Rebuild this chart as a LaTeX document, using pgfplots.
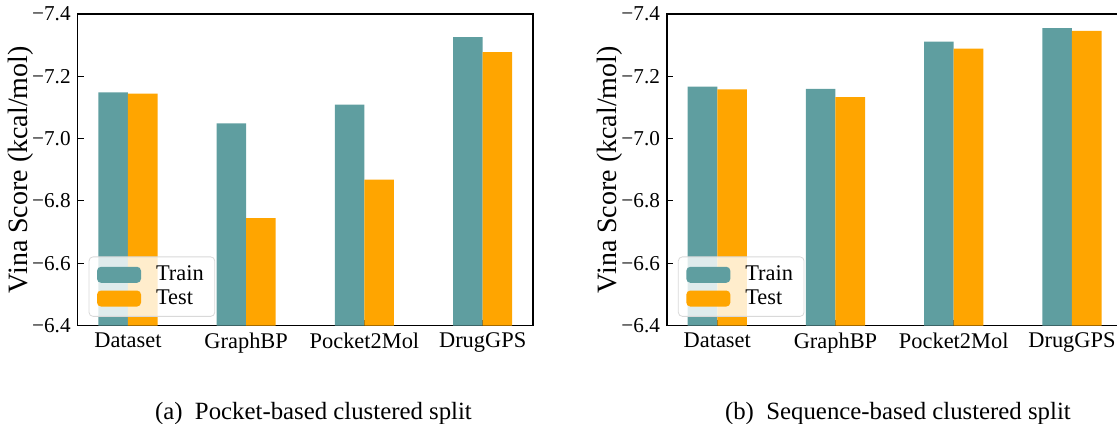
\documentclass[border=0pt]{standalone}
\usepackage{fontspec}
\setmainfont{Liberation Serif}
\usepackage{pgfplots}
\pgfplotsset{compat=1.18}
\definecolor{trainc}{HTML}{5F9EA0}
\definecolor{testc}{HTML}{FFA500}
\pgfplotsset{vina/.style={
  scale only axis, width=227.6pt, height=155.75pt, anchor=south west,
  ybar, bar width=0.25,
  y dir=reverse, ymin=-7.4, ymax=-6.4, xmin=-0.425, xmax=3.425,
  xtick={0,1,2,3}, xticklabels={Dataset,GraphBP,Pocket2Mol,DrugGPS},
  ytick={-7.4,-7.2,-7.0,-6.8,-6.6,-6.4},
  yticklabels={−7.4,−7.2,−7.0,−6.8,−6.6,−6.4},
  tick align=inside, xtick pos=bottom, ytick pos=left, major tick length=3pt,
  tick style={black, line width=0.5pt},
  xticklabel style={font=\fontsize{11.2}{13}\selectfont},
  yticklabel style={font=\fontsize{10.6}{12}\selectfont},
  axis line style={black, line width=0.6pt},
  ylabel={Vina Score (kcal/mol)},
  every axis y label/.style={at={(axis description cs:0,0.5)}, xshift=-28.6pt, rotate=90, anchor=center, font=\fontsize{14}{16}\selectfont},
  legend image code/.code={\fill[##1, fill opacity=1] (0pt,-4pt) rectangle (22pt,4pt);},
  legend style={at={(axis description cs:0.024,0.028)}, anchor=south west,
    draw=black!15, rounded corners=2pt, fill=white, fill opacity=0.8, text opacity=1,
    font=\fontsize{11.2}{13}\selectfont, inner xsep=4pt, inner ysep=3pt, row sep=0pt,
    nodes={inner sep=1.5pt},
    /tikz/every odd column/.append style={column sep=6pt}},
  legend cell align=left,
}}
\begin{document}
\begin{tikzpicture}
\begin{axis}[vina, at={(38.85pt,48.75pt)}]
\addplot[fill=trainc, draw=none, bar shift=-0.125] coordinates {(0,-7.148) (1,-7.049) (2,-7.109) (3,-7.326)};
\addplot[fill=testc, draw=none, bar shift=0.125] coordinates {(0,-7.144) (1,-6.745) (2,-6.868) (3,-7.278)};
\legend{Train,Test}
\end{axis}
\begin{axis}[vina, at={(333.5pt,48.75pt)}]
\addplot[fill=trainc, draw=none, bar shift=-0.125] coordinates {(0,-7.167) (1,-7.160) (2,-7.311) (3,-7.355)};
\addplot[fill=testc, draw=none, bar shift=0.125] coordinates {(0,-7.158) (1,-7.133) (2,-7.289) (3,-7.346)};
\legend{Train,Test}
\end{axis}
\node[anchor=base west, font=\fontsize{12.4}{14}\selectfont] at (74pt,2pt) {(a)\ \ Pocket-based clustered split};
\node[anchor=base west, font=\fontsize{12.4}{14}\selectfont] at (359pt,2pt) {(b)\ \ Sequence-based clustered split};
\pgfresetboundingbox
\path[use as bounding box] (0,0) rectangle (558.5pt,211.5pt);
\end{tikzpicture}
\end{document}
